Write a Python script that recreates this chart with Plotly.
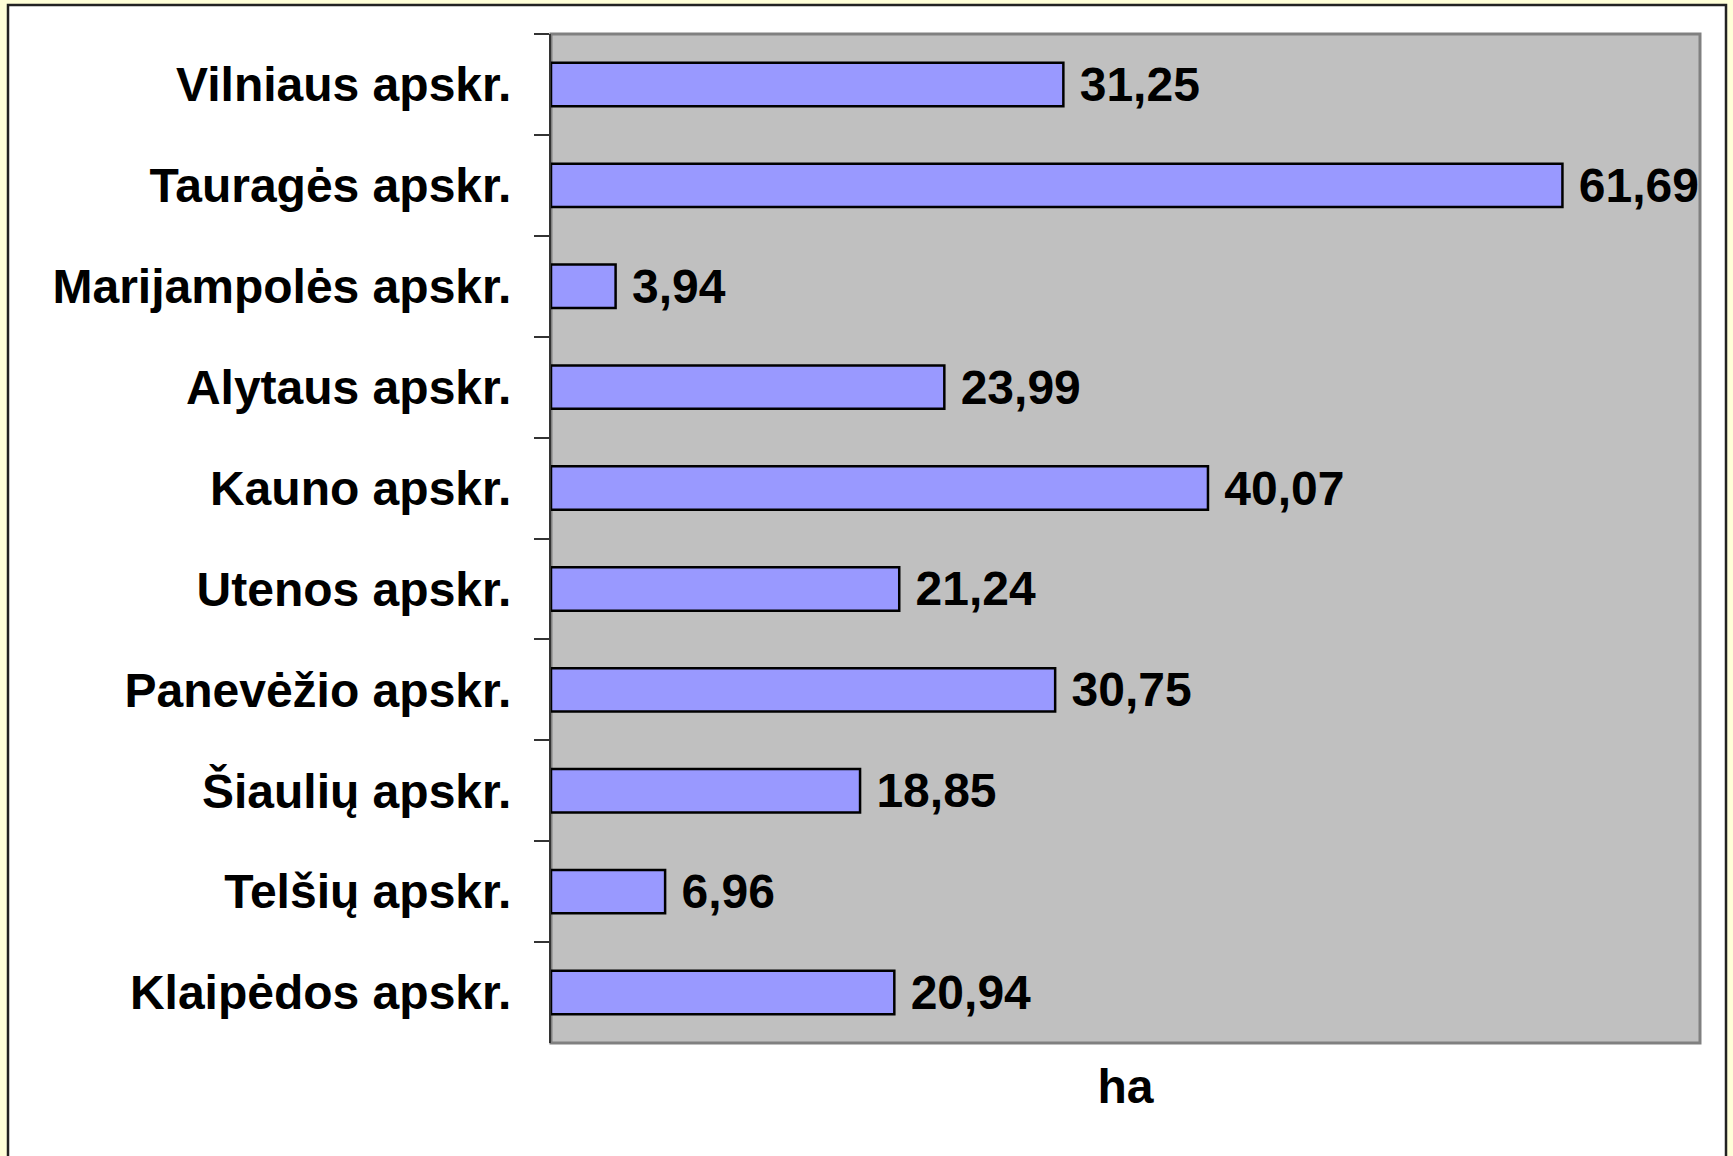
import plotly.graph_objects as go

# County names (top to bottom) and area values in ha
apskritys = ['Vilniaus apskr.', 'Tauragės apskr.', 'Marijampolės apskr.', 'Alytaus apskr.',
             'Kauno apskr.', 'Utenos apskr.', 'Panevėžio apskr.', 'Šiaulių apskr.',
             'Telšių apskr.', 'Klaipėdos apskr.']
plotas_ha = [31.25, 61.69, 3.94, 23.99, 40.07, 21.24, 30.75, 18.85, 6.96, 20.94]

W, H = 1733, 1156
# plot area in pixels
L, R, T, B = 551, 1700, 34, 1043

FONT = 'Arial, Liberation Sans, sans-serif'
BG = '#FFFFD8'

fig = go.Figure(go.Bar(
    x=plotas_ha,
    y=apskritys,
    orientation='h',
    marker=dict(color='#9999FF', line=dict(color='black', width=2.5)),
    texttemplate='\u00a0%{x:.2f}',
    textposition='outside',
    constraintext='none',
    cliponaxis=False,
    textfont=dict(family=FONT, size=48, color='black', weight='bold'),
))

def px_x(p):
    return (p - L) / (R - L)

def px_y(p):
    return (B - p) / (B - T)

fig.update_layout(
    width=W, height=H,
    margin=dict(l=L, r=W - R, t=T, b=H - B),
    paper_bgcolor=BG,
    plot_bgcolor='rgba(0,0,0,0)',
    separators=', ',
    bargap=0.57,
    showlegend=False,
    font=dict(family=FONT, color='black'),
    shapes=[
        # white frame around the chart
        dict(type='rect', xref='paper', yref='paper', layer='below',
             x0=px_x(8), x1=px_x(1726), y0=px_y(1170), y1=px_y(5),
             fillcolor='white', line=dict(color='#222222', width=2.5)),
        # grey plot area
        dict(type='rect', xref='paper', yref='paper', layer='below',
             x0=0, x1=1, y0=0, y1=1,
             fillcolor='#C0C0C0', line=dict(color='#808080', width=3)),
    ],
)

fig.update_xaxes(
    range=[0, 70.08], showticklabels=False, showgrid=False, zeroline=False,
    ticks='', showline=False,
    title=dict(text='<b>ha</b>', font=dict(family=FONT, size=48, color='black'), standoff=26),
)

fig.update_yaxes(
    autorange='reversed', showgrid=False, zeroline=False,
    showline=True, linecolor='#333333', linewidth=2,
    ticks='outside', tickson='boundaries', ticklen=15, tickwidth=1.5, tickcolor='#333333',
    ticklabelstandoff=28,
    tickfont=dict(family=FONT, size=48, color='black', weight='bold'),
)

# drop the default body margin so the figure fills the window
fig.write_html('out.html', config={'displayModeBar': False},
               post_script="document.body.style.margin='0';"
                           "document.body.style.background='" + BG + "';")
